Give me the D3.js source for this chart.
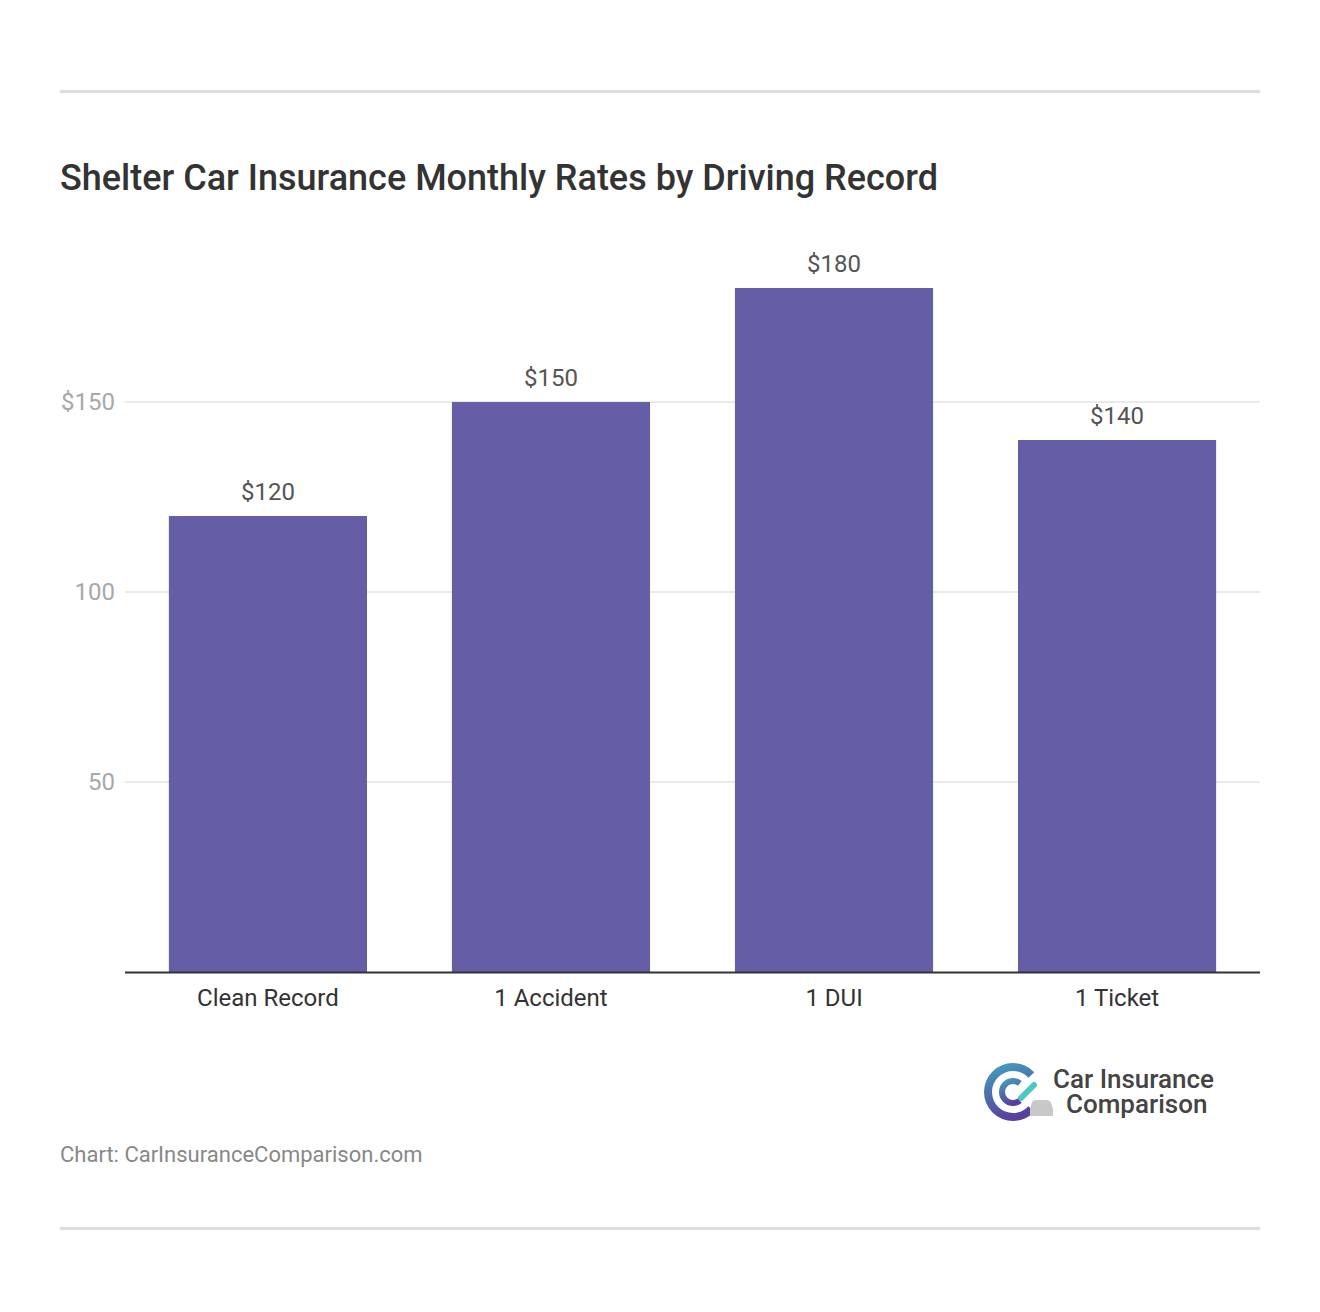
<!DOCTYPE html>
<html><head><meta charset="utf-8">
<script src="https://cdn.jsdelivr.net/npm/d3@7"></script>
<style>body{margin:0;background:#fff;}svg{display:block;font-family:Roboto,"Noto Sans",sans-serif;}</style>
</head><body>
<svg id="c" width="1320" height="1312"></svg>
<script>
const categories = ["Clean Record","1 Accident","1 DUI","1 Ticket"];
const values = [120,150,180,140];
const yTicks = [50,100,150];
const yTickLabels = ["50","100","$150"];
const title = "Shelter Car Insurance Monthly Rates by Driving Record";
const source = "Chart: CarInsuranceComparison.com";

const svg = d3.select("#c");
const m = {left:125, right:1260, top:250, bottom:972};
const x = d3.scaleBand().domain(categories).range([m.left,m.right]).paddingInner(0.3).paddingOuter(0.155);
const y = d3.scaleLinear().domain([0,190]).range([m.bottom,m.top]);

svg.append("rect").attr("x",60).attr("y",90).attr("width",1200).attr("height",3).attr("fill","#dddddd");
svg.append("rect").attr("x",60).attr("y",1227).attr("width",1200).attr("height",3).attr("fill","#dddddd");

svg.append("text").attr("x",60).attr("y",190).attr("font-size",36).attr("font-weight",500).attr("fill","#333")
  .text(title);

svg.append("g").selectAll("line").data(yTicks).join("line")
  .attr("x1",m.left).attr("x2",m.right).attr("y1",d=>y(d)).attr("y2",d=>y(d))
  .attr("stroke","#e3e3e3").attr("stroke-width",1.5);
svg.append("g").selectAll("text").data(yTicks).join("text")
  .attr("x",115).attr("y",d=>y(d)+8).attr("text-anchor","end").attr("font-size",24).attr("fill","#a8a8a8")
  .text((d,i)=>yTickLabels[i]);

svg.append("g").selectAll("rect").data(values).join("rect")
  .attr("x",(d,i)=>x(categories[i])).attr("width",x.bandwidth())
  .attr("y",d=>y(d)).attr("height",d=>y(0)-y(d)).attr("fill","#655ea6");
svg.append("g").selectAll("text").data(values).join("text")
  .attr("x",(d,i)=>x(categories[i])+x.bandwidth()/2).attr("y",d=>y(d)-16)
  .attr("text-anchor","middle").attr("font-size",24).attr("fill","#555").text(d=>"$"+d);

svg.append("line").attr("x1",m.left).attr("x2",m.right).attr("y1",y(0)+0.5).attr("y2",y(0)+0.5)
  .attr("stroke","#333").attr("stroke-width",2);
svg.append("g").selectAll("text").data(categories).join("text")
  .attr("x",d=>x(d)+x.bandwidth()/2).attr("y",1006).attr("text-anchor","middle")
  .attr("font-size",24).attr("fill","#333").text(d=>d);

svg.append("text").attr("x",60).attr("y",1162).attr("font-size",22).attr("fill","#888").text(source);

// logo
const defs = svg.append("defs");
const g1 = defs.append("linearGradient").attr("id","lg").attr("x1","0").attr("y1","0").attr("x2","0.3").attr("y2","1");
g1.append("stop").attr("offset","0").attr("stop-color","#3fa7c0");
g1.append("stop").attr("offset","1").attr("stop-color","#5a3f9e");
const L = svg.append("g").attr("transform","translate(1013,1092)");
const arc = d3.arc();
const H = Math.PI/2;
L.append("path").attr("d",arc({innerRadius:21,outerRadius:29,startAngle:H+0.75,endAngle:H+2*Math.PI-0.75}))
  .attr("fill","url(#lg)");
L.append("path").attr("d",arc({innerRadius:8,outerRadius:14,startAngle:H+0.9,endAngle:H+2*Math.PI-0.9}))
  .attr("fill","url(#lg)");
L.append("line").attr("x1",8).attr("y1",6).attr("x2",21).attr("y2",-7).attr("stroke","#4cc8c0").attr("stroke-width",6).attr("stroke-linecap","round");
L.append("path").attr("d","M17,17 L19,10 Q20,8 24,8 L33,8 Q37,8 38,11 L40,17 L40,24 L17,24 Z").attr("fill","#c8c8c8");
svg.append("text").attr("x",1053).attr("y",1088).attr("font-size",26).attr("font-weight",500).attr("fill","#444").text("Car Insurance");
svg.append("text").attr("x",1066).attr("y",1113).attr("font-size",26).attr("font-weight",500).attr("fill","#444").text("Comparison");
</script>
</body></html>
